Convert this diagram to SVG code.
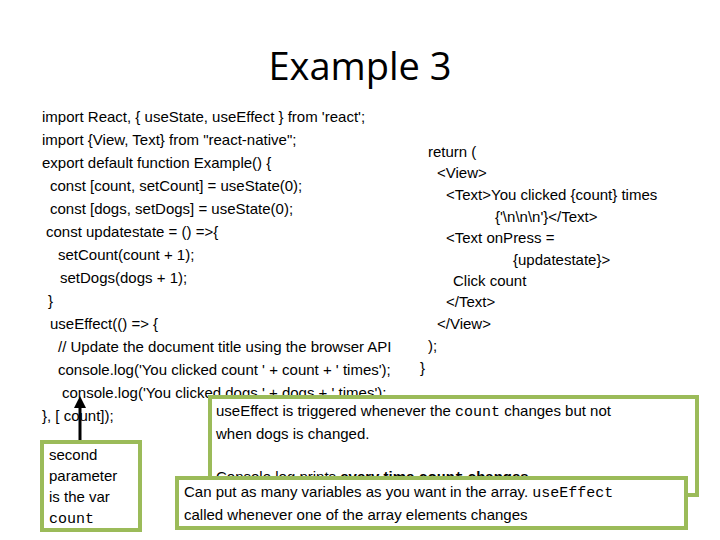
<svg xmlns="http://www.w3.org/2000/svg" width="720" height="540" viewBox="0 0 720 540">
<style>
.c{font-family:"Liberation Sans",Arial,sans-serif;font-size:15px;fill:#000}
.m{font-family:"Liberation Mono","Courier New",monospace}
.box{fill:#fff;stroke:#9bbb59;stroke-width:4}
</style>
<defs><marker id="ah" viewBox="0 0 10 10" refX="5" refY="5" markerWidth="4" markerHeight="4" orient="auto"><path d="M0,0L10,5L0,10z" fill="#000"/></marker>
<clipPath id="cp"><rect x="210" y="397" width="487" height="79"/></clipPath></defs>
<rect width="720" height="540" fill="#fff"/>
<text x="360" y="80" text-anchor="middle" font-family="Open Sans,sans-serif" font-size="38">Example 3</text>
<g id="code" class="c">
<text x="42" y="122">import React, { useState, useEffect } from 'react';</text>
<text x="42" y="145">import {View, Text} from "react-native";</text>
<text x="42" y="168">export default function Example() {</text>
<text x="50" y="191">const [count, setCount] = useState(0);</text>
<text x="50" y="214">const [dogs, setDogs] = useState(0);</text>
<text x="46" y="237">const updatestate = () =&gt;{</text>
<text x="58" y="260">setCount(count + 1);</text>
<text x="60" y="283">setDogs(dogs + 1);</text>
<text x="48" y="306">}</text>
<text x="50" y="329">useEffect(() =&gt; {</text>
<text x="58" y="352">// Update the document title using the browser API</text>
<text x="58" y="375">console.log('You clicked count ' + count + ' times');</text>
<text x="62" y="398">console.log('You clicked dogs ' + dogs + ' times');</text>
<text x="42" y="421">}, [ count]);</text>
<text x="428" y="157">return (</text>
<text x="437" y="178">&lt;View&gt;</text>
<text x="446" y="200">&lt;Text&gt;You clicked {count} times</text>
<text x="495" y="222">{'\n\n\n'}&lt;/Text&gt;</text>
<text x="446" y="243">&lt;Text onPress =</text>
<text x="513" y="265">{updatestate}&gt;</text>
<text x="453" y="286">Click count</text>
<text x="446" y="307">&lt;/Text&gt;</text>
<text x="437" y="329">&lt;/View&gt;</text>
<text x="428" y="351">);</text>
<text x="420" y="373">}</text>
</g>
<g id="connectors"><line x1="80" y1="442" x2="80" y2="402" stroke="#000" stroke-width="3" marker-end="url(#ah)"/></g>
<g id="note1">
<rect class="box" x="210" y="397" width="487" height="98"/>
<text class="c" x="216" y="416">useEffect is triggered whenever the <tspan class="m">count</tspan> changes but not</text>
<text class="c" x="216" y="439">when dogs is changed.</text>
<text class="c" x="216" y="482" clip-path="url(#cp)">Console.log prints <tspan font-weight="bold">every time <tspan class="m">count</tspan> changes</tspan></text>
</g>
<g id="note2">
<rect class="box" x="177" y="478" width="509" height="50"/>
<text class="c" x="184" y="497">Can put as many variables as you want in the array.  <tspan class="m">useEffect</tspan></text>
<text class="c" x="184" y="520">called whenever one of the array elements changes</text>
</g>
<g id="note3">
<rect class="box" x="42" y="442" width="98" height="88"/>
<text class="c" x="49" y="460">second</text>
<text class="c" x="49" y="481">parameter</text>
<text class="c" x="49" y="502">is the var</text>
<text class="c m" x="49" y="523">count</text>
</g>
</svg>
